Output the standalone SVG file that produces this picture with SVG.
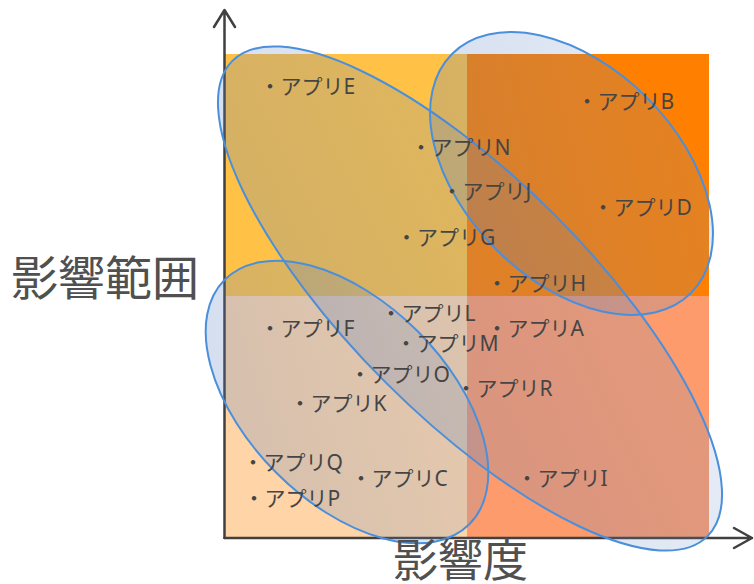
<svg xmlns="http://www.w3.org/2000/svg" width="754" height="584" viewBox="0 0 754 584">
<defs>
<linearGradient id="eg" x1="0" y1="1" x2="1" y2="0">
<stop offset="0" stop-color="rgb(80,120,190)" stop-opacity="0.26"/>
<stop offset="1" stop-color="rgb(100,140,200)" stop-opacity="0.15"/>
</linearGradient>
</defs>
<style>
.axis{stroke:#404040;stroke-width:2.5;fill:none;stroke-linecap:round;stroke-linejoin:round}
.ell{fill:url(#eg);stroke:#4A8FDC;stroke-width:2}
.lbl{font-family:"Noto Sans","Noto Sans CJK JP",sans-serif;font-size:21px;fill:#454545}
.ttl{font-family:"Noto Sans CJK JP","Noto Sans",sans-serif;font-size:47px;fill:#505050}
</style>
<g id="quadrants">
<rect x="225" y="54" width="242" height="242" fill="#FFC246"/>
<rect x="467" y="54" width="242" height="242" fill="#FF8000"/>
<rect x="225" y="296" width="242" height="242" fill="#FFD5A8"/>
<rect x="467" y="296" width="242" height="242" fill="#FD9B6C"/>
</g>
<g id="axes">
<path class="axis" d="M224.5,538 V11 M214,27 L224.5,10 L235,27"/>
<path class="axis" d="M224.5,538 H752 M734,528 L752,538 L734,548"/>
</g>
<g id="groups">
<ellipse id="group-diag" class="ell" cx="470" cy="298.5" rx="336" ry="119" transform="rotate(45 470 298.5)"/>
<ellipse id="group-high" class="ell" cx="571.5" cy="173.5" rx="169" ry="107" transform="rotate(45 571.5 173.5)"/>
<ellipse id="group-low" class="ell" cx="347" cy="402" rx="173" ry="100" transform="rotate(45 347 402)"/>
</g>
<g id="labels">
<text class="lbl" x="259.5" y="93.5">・アプリE</text>
<text class="lbl" x="576.5" y="108.5">・アプリB</text>
<text class="lbl" x="410.5" y="154.5">・アプリN</text>
<text class="lbl" x="441.5" y="199">・アプリJ</text>
<text class="lbl" x="592.5" y="214.5">・アプリD</text>
<text class="lbl" x="396" y="244.5">・アプリG</text>
<text class="lbl" x="486.5" y="290.5">・アプリH</text>
<text class="lbl" x="380.5" y="320.5">・アプリL</text>
<text class="lbl" x="259.5" y="335.5">・アプリF</text>
<text class="lbl" x="486.5" y="335.5">・アプリA</text>
<text class="lbl" x="395.5" y="350.5">・アプリM</text>
<text class="lbl" x="349.5" y="381.5">・アプリO</text>
<text class="lbl" x="455.5" y="395.5">・アプリR</text>
<text class="lbl" x="289.5" y="410.5">・アプリK</text>
<text class="lbl" x="242.5" y="469.5">・アプリQ</text>
<text class="lbl" x="350.5" y="485.5">・アプリC</text>
<text class="lbl" x="243.5" y="505.5">・アプリP</text>
<text class="lbl" x="516.5" y="485.5">・アプリI</text>
</g>
<g id="titles">
<text class="ttl" x="11" y="295">影響範囲</text>
<text class="ttl" x="393" y="577" style="font-size:45px">影響度</text>
</g>
</svg>
